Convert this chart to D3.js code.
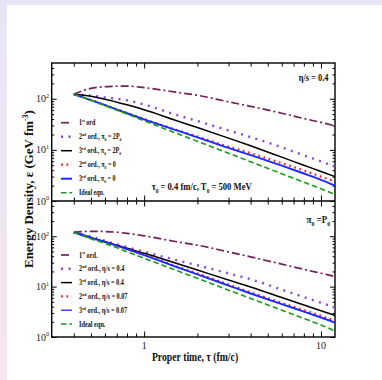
<!DOCTYPE html>
<html><head><meta charset="utf-8">
<script src="https://cdn.jsdelivr.net/npm/d3@7"></script>
<style>body{margin:0;background:#fff;overflow:hidden}</style>
</head><body>
<svg id="c" width="382" height="380"></svg>
<script>
// ---------- data ----------
const tau = [0.4, 0.5, 0.6, 0.8, 1, 1.5, 2, 3, 4, 6, 8, 10, 12];
// top panel (eta/s = 0.4)
const top1st    = [122, 160, 172, 177, 165, 135, 117, 87, 71, 52, 41, 34.5, 29.5];
const top2ndPi2 = [122, 115, 106, 93, 77, 49, 36.7, 24, 17.8, 11.2, 7.8, 5.95, 4.7];
const top3rdPi2 = [122, 112, 98, 76, 61, 38, 27.4, 17, 12, 7.2, 5.0, 3.77, 3.0];
const top2ndPi0 = [122, 94.5, 75.5, 52.5, 40, 25, 18.2, 11.5, 8.6, 5.5, 3.95, 3.0, 2.4];
const top3rdPi0 = [122, 94, 75, 52, 39.5, 24.6, 17.6, 10.9, 7.9, 4.9, 3.45, 2.6, 2.01];
const topIdeal  = [122, 93, 73, 50, 37, 21.5, 14.7, 8.6, 5.85, 3.41, 2.33, 1.73, 1.36];
// bottom panel (pi0 = P0)
const bot1st     = [120, 125, 124, 114, 102, 78.5, 66.6, 48.8, 39, 27.9, 22, 18.4, 15.9];
const bot2nd04   = [120, 98, 81, 60.5, 49, 34, 26.5, 18.3, 14, 8.7, 6.2, 4.77, 3.85];
const bot3rd04   = [120, 94.3, 77.4, 57.5, 46, 29.4, 21.3, 13.5, 9.86, 6.1, 4.33, 3.32, 2.67];
const bot2nd007  = [120, 93.5, 77.5, 56, 43, 25.8, 18.2, 11, 7.7, 4.75, 3.4, 2.62, 2.1];
const bot3rd007  = [120, 93, 77, 55.2, 42, 25, 17.5, 10.5, 7.3, 4.48, 3.2, 2.44, 1.94];
const botIdeal   = [120, 88.8, 72, 49.3, 36.6, 21.3, 14.6, 8.5, 5.83, 3.4, 2.33, 1.73, 1.32];

const xMajor = [1, 10];
const xMinor = [0.4, 0.5, 0.6, 0.7, 0.8, 0.9, 2, 3, 4, 5, 6, 7, 8, 9];
const yMajor = [1, 10, 100];
const yMinor = [2,3,4,5,6,7,8,9,20,30,40,50,60,70,80,90,200,300,400];
const yExp = ["0", "1", "2"];

// legend labels: [text, type] parts
const topLegend = [
  [["1","" ],["st","sup"],[" ord",""]],
  [["2",""],["nd","sup"],[" ord., π",""],["0","sub"],[" = 2P",""],["0","sub"]],
  [["3",""],["rd","sup"],[" ord., π",""],["0","sub"],[" = 2P",""],["0","sub"]],
  [["2",""],["nd","sup"],[" ord., π",""],["0","sub"],[" = 0",""]],
  [["3",""],["rd","sup"],[" ord., π",""],["0","sub"],[" = 0",""]],
  [["Ideal eqn.",""]]
];
const botLegend = [
  [["1",""],["st","sup"],[" ord.",""]],
  [["2",""],["nd","sup"],[" ord., η/s = 0.4",""]],
  [["3",""],["rd","sup"],[" ord., η/s = 0.4",""]],
  [["2",""],["nd","sup"],[" ord., η/s = 0.07",""]],
  [["3",""],["rd","sup"],[" ord., η/s = 0.07",""]],
  [["Ideal eqn.",""]]
];

// ---------- styles ----------
const styles = [
  {color:"#74205a", width:1.7, dash:"8,3,2,3"},
  {color:"#8a44e0", width:2.4, dash:"2,5.5"},
  {color:"#000000", width:1.5, dash:null},
  {color:"#ff2020", width:2.2, dash:"1.8,3.6"},
  {color:"#1a2cff", width:1.9, dash:null},
  {color:"#1a9a1a", width:1.6, dash:"5.5,3"}
];

const svg = d3.select("#c");
const FONT = "'Liberation Serif','Times New Roman',serif";

// background strips
const defs = svg.append("defs");
const grad = defs.append("linearGradient").attr("id","lg").attr("x1",0).attr("y1",0).attr("x2",0).attr("y2",1);
grad.append("stop").attr("offset","0").attr("stop-color","#e7e5f6");
grad.append("stop").attr("offset","1").attr("stop-color","#f5e5ee");
svg.append("rect").attr("x",0).attr("y",0).attr("width",382).attr("height",380).attr("fill","#fff");
svg.append("rect").attr("x",0).attr("y",0).attr("width",382).attr("height",5).attr("fill","#e8e6f7");
svg.append("rect").attr("x",0).attr("y",0).attr("width",7).attr("height",380).attr("fill","url(#lg)");

// ---------- scales ----------
const L = 51.7, R = 335, T = 63, M = 201, B = 337;
const x = d3.scaleLog().domain([0.3, 12]).range([L, R]);
const yTop = d3.scaleLog().domain([1, 500]).range([M, T]);
const yBot = d3.scaleLog().domain([1, 500]).range([B, M]);

function rich(textSel, parts, size){
  let shift = 0;
  parts.forEach(([s,t]) => {
    const target = t === "sup" ? -size*0.42 : t === "sub" ? size*0.28 : 0;
    textSel.append("tspan").attr("dy", target - shift)
      .attr("font-size", t ? size*0.62 : size).text(s);
    shift = target;
  });
}

// ---------- axes ----------
function axisGroup(axis, tx, ty){
  const g = svg.append("g").attr("transform", `translate(${tx},${ty})`).call(axis);
  g.select(".domain").remove();
  g.selectAll("line").attr("stroke","#000").attr("stroke-width",1);
  return g;
}
const fmt = () => "";
[yTop, yBot].forEach(ys => {
  axisGroup(d3.axisLeft(ys).tickValues(yMajor).tickSizeInner(-5).tickSizeOuter(0).tickFormat(fmt), L, 0);
  axisGroup(d3.axisLeft(ys).tickValues(yMinor).tickSizeInner(-2.5).tickSizeOuter(0).tickFormat(fmt), L, 0);
  axisGroup(d3.axisRight(ys).tickValues(yMajor).tickSizeInner(-5).tickSizeOuter(0).tickFormat(fmt), R, 0);
  axisGroup(d3.axisRight(ys).tickValues(yMinor).tickSizeInner(-2.5).tickSizeOuter(0).tickFormat(fmt), R, 0);
});
// x ticks: top edge (down), divider (up & down), bottom edge (up)
[[T, "top"], [M, "bottom"], [M, "top"], [B, "bottom"]].forEach(([yy, side]) => {
  const mk = side === "top" ? d3.axisTop : d3.axisBottom;
  axisGroup(mk(x).tickValues(xMajor).tickSizeInner(-5.5).tickSizeOuter(0).tickFormat(fmt), 0, yy);
  axisGroup(mk(x).tickValues(xMinor).tickSizeInner(-3.5).tickSizeOuter(0).tickFormat(fmt), 0, yy);
});

// frame
svg.append("rect").attr("x",L).attr("y",T).attr("width",R-L).attr("height",B-T)
  .attr("fill","none").attr("stroke","#000").attr("stroke-width",1.4);
svg.append("line").attr("x1",L).attr("x2",R).attr("y1",M).attr("y2",M)
  .attr("stroke","#000").attr("stroke-width",1.4);

// tick labels
[yTop, yBot].forEach(ys => {
  yMajor.forEach((v,i) => {
    const t = svg.append("text").attr("x", 36).attr("y", ys(v) + 3.5)
      .attr("font-family", FONT).attr("font-size", 10).attr("fill","#222");
    rich(t, [["10",""],[yExp[i],"sup"]], 10);
  });
});
xMajor.forEach(v => {
  svg.append("text").attr("x", x(v)).attr("y", 349).attr("text-anchor","middle")
    .attr("font-family", FONT).attr("font-size", 10).attr("fill","#222").text(String(v));
});

// ---------- curves ----------
const line = (ys) => d3.line().x(d => x(d[0])).y(d => ys(d[1])).curve(d3.curveMonotoneX);
function drawSeries(ys, arrs){
  arrs.forEach((arr, i) => {
    const st = styles[i];
    svg.append("path").datum(tau.map((t,k) => [t, arr[k]]))
      .attr("d", line(ys)).attr("fill","none")
      .attr("stroke", st.color).attr("stroke-width", st.width)
      .attr("stroke-dasharray", st.dash);
  });
}
const topSeries = [top1st, top2ndPi2, top3rdPi2, top2ndPi0, top3rdPi0, topIdeal];
const botSeries = [bot1st, bot2nd04, bot3rd04, bot2nd007, bot3rd007, botIdeal];
drawSeries(yTop, topSeries);
drawSeries(yBot, botSeries);

// text fitting helper: horizontally scale text to a target length
function fitted(parts, tx, ty, size, target, anchor, rot){
  const t = svg.append("text").attr("font-family", FONT).attr("font-weight","bold")
    .attr("font-size", size).attr("text-anchor", anchor).attr("fill","#111");
  rich(t, parts, size);
  const w = t.node().getBBox().width || target;
  const s = target / w;
  t.attr("transform", `translate(${tx},${ty})${rot ? " rotate(-90)" : ""} scale(${s},1)`);
  return t;
}

// ---------- legends ----------
function legend(entries, ys0, dy, blueW, idealLen){
  // common scale based on "Ideal eqn." width
  const probe = svg.append("text").attr("font-family", FONT).attr("font-weight","bold")
    .attr("font-size", 7.8).text("Ideal eqn.");
  const s = idealLen / probe.node().getBBox().width;
  probe.remove();
  entries.forEach((parts, i) => {
    const st = styles[i];
    const yy = ys0 + i*dy;
    svg.append("line").attr("x1", 61).attr("x2", 72).attr("y1", yy).attr("y2", yy)
      .attr("stroke", st.color).attr("stroke-width", i === 4 ? blueW : st.width)
      .attr("stroke-dasharray", st.dash);
    const t = svg.append("text").attr("transform", `translate(79,${yy+2.6}) scale(${s},1)`)
      .attr("font-family", FONT).attr("font-weight","bold").attr("font-size", 7.8).attr("fill","#111");
    rich(t, parts, 7.8);
  });
}
legend(topLegend, 122.7, 14, 2, 25.5);
legend(botLegend, 255, 13.8, 1.3, 26.5);

// ---------- annotations ----------
fitted([["η/s = 0.4",""]], 328.5, 81, 10.5, 30.5, "end");
fitted([["τ",""],["0","sub"],[" = 0.4 fm/c, T",""],["0","sub"],[" = 500 MeV",""]], 151.7, 190, 10.5, 100.5, "start");
fitted([["π",""],["0","sub"],[" =P",""],["0","sub"]], 330, 223, 10.5, 23.5, "end");

// axis titles
fitted([["Proper time, τ (fm/c)",""]], 195, 361, 11.5, 86.5, "middle");
fitted([["Energy Density, ε (GeV fm",""],["-3","sup"],[")",""]], 33, 189, 12, 158, "middle", true);
</script>
</body></html>
